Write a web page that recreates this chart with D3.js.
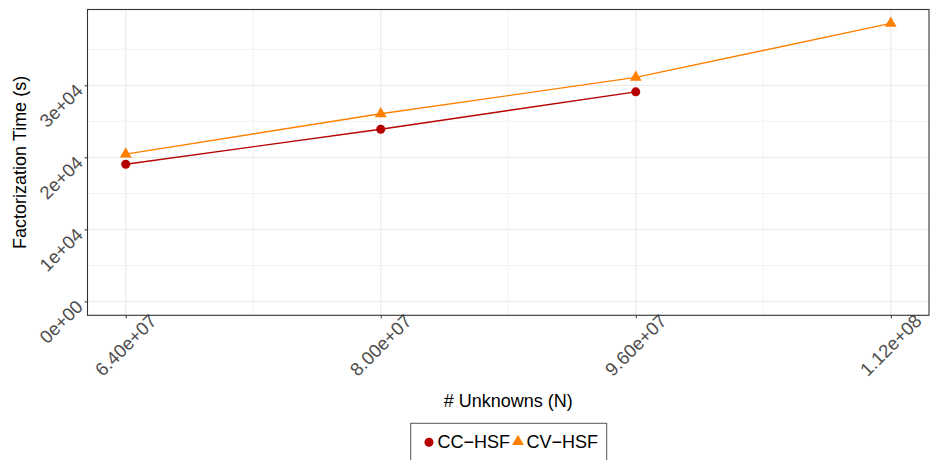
<!DOCTYPE html>
<html><head><meta charset="utf-8">
<script src="https://cdn.jsdelivr.net/npm/d3@7"></script>
<style>body{margin:0;background:#fff}svg{display:block;font-family:"Liberation Sans",Arial,sans-serif}</style>
</head><body><div id="chart"></div>
<script>
const unknowns = [6.4e7, 8.0e7, 9.6e7, 1.12e8];
const xTickLabels = ["6.40e+07", "8.00e+07", "9.60e+07", "1.12e+08"];
const ccHSF = [19050, 23900, 29100, null];
const cvHSF = [20450, 26050, 31100, 38600];
const yTicks = [0, 10000, 20000, 30000];
const yTickLabels = ["0e+00", "1e+04", "2e+04", "3e+04"];
const seriesNames = ["CC\u2212HSF", "CV\u2212HSF"];
const seriesColors = ["#B40000", "#FF8000"];

const W = 930, H = 460;
const P = {l: 87.5, r: 929, t: 9.5, b: 315.3};
const svg = d3.select("#chart").append("svg").attr("width", W).attr("height", H);

const xmin = d3.min(unknowns), xmax = d3.max(unknowns), xr = xmax - xmin;
const x = d3.scaleLinear().domain([xmin - 0.05 * xr, xmax + 0.05 * xr]).range([P.l, P.r]);
const ymax = d3.max(cvHSF.concat(ccHSF.filter(v => v != null)));
const y = d3.scaleLinear().domain([-0.05 * ymax, ymax * 1.05]).range([P.b, P.t]);

// grid
const g = svg.append("g");
const xMinor = d3.pairs(unknowns).map(p => (p[0] + p[1]) / 2);
const yMinor = [5000, 15000, 25000, 35000];
g.selectAll(".xm").data(xMinor).join("line").attr("x1", d => x(d)).attr("x2", d => x(d))
  .attr("y1", P.t).attr("y2", P.b).attr("stroke", "#F2F2F2").attr("stroke-width", 1);
g.selectAll(".ym").data(yMinor).join("line").attr("y1", d => y(d)).attr("y2", d => y(d))
  .attr("x1", P.l).attr("x2", P.r).attr("stroke", "#F2F2F2").attr("stroke-width", 1);
g.selectAll(".xM").data(unknowns).join("line").attr("x1", d => x(d)).attr("x2", d => x(d))
  .attr("y1", P.t).attr("y2", P.b).attr("stroke", "#EBEBEB").attr("stroke-width", 1.2);
g.selectAll(".yM").data(yTicks).join("line").attr("y1", d => y(d)).attr("y2", d => y(d))
  .attr("x1", P.l).attr("x2", P.r).attr("stroke", "#EBEBEB").attr("stroke-width", 1.2);

// axes
const xAxis = d3.axisBottom(x).tickValues(unknowns).tickFormat((d, i) => xTickLabels[i]).tickSize(3).tickSizeOuter(0);
const yAxis = d3.axisLeft(y).tickValues(yTicks).tickFormat((d, i) => yTickLabels[i]).tickSize(3).tickSizeOuter(0);
const gx = svg.append("g").attr("transform", `translate(0,${P.b})`).call(xAxis);
const gy = svg.append("g").attr("transform", `translate(${P.l},0)`).call(yAxis);
[gx, gy].forEach(a => {
  a.select(".domain").remove();
  a.selectAll(".tick line").attr("stroke", "#333333").attr("stroke-width", 1);
  a.selectAll(".tick text").attr("fill", "#4D4D4D").attr("font-size", 18.5).attr("font-family", "Liberation Sans, Arial, sans-serif");
});
gx.selectAll(".tick text").attr("text-anchor", "end").attr("y", 0).attr("x", 0).attr("dy", null)
  .attr("transform", "translate(31.5,7) rotate(-45)");
gy.selectAll(".tick text").attr("text-anchor", "end").attr("x", 0).attr("y", 0).attr("dy", null)
  .attr("transform", "translate(-3.5,6) rotate(-45)");

// panel border
svg.append("rect").attr("x", P.l).attr("y", P.t).attr("width", P.r - P.l).attr("height", P.b - P.t)
  .attr("fill", "none").attr("stroke", "#333333").attr("stroke-width", 1.1);

// lines & points
const series = [ccHSF, cvHSF];
const line = d3.line().defined(d => d.v != null).x(d => x(d.x)).y(d => y(d.v));
series.forEach((s, i) => {
  const pts = unknowns.map((u, j) => ({x: u, v: s[j]}));
  svg.append("path").datum(pts).attr("d", line).attr("fill", "none")
    .attr("stroke", seriesColors[i]).attr("stroke-width", 1.4);
});
const sym = [d3.symbolCircle, d3.symbolTriangle];
const symSize = [64, 60];
series.forEach((s, i) => {
  const pts = unknowns.map((u, j) => ({x: u, v: s[j]})).filter(d => d.v != null);
  svg.selectAll(null).data(pts).join("path")
    .attr("d", d3.symbol().type(sym[i]).size(symSize[i]))
    .attr("transform", d => `translate(${x(d.x)},${y(d.v)})`)
    .attr("fill", seriesColors[i]);
});

// axis titles
svg.append("text").attr("x", (P.l + P.r) / 2).attr("y", 406.5).attr("text-anchor", "middle")
  .attr("font-size", 18).attr("fill", "#000").text("# Unknowns (N)");
svg.append("text").attr("transform", `translate(25.5,${(P.t + P.b) / 2}) rotate(-90)`).attr("text-anchor", "middle")
  .attr("font-size", 18).attr("fill", "#000").text("Factorization Time (s)");

// legend
const lg = svg.append("g");
lg.append("rect").attr("x", 410.7).attr("y", 423.3).attr("width", 196).attr("height", 50)
  .attr("fill", "#fff").attr("stroke", "#555").attr("stroke-width", 1);
const legX = [429, 518];
const legY = [442.3, 441.5];
seriesNames.forEach((n, i) => {
  lg.append("path").attr("d", d3.symbol().type(sym[i]).size(symSize[i]))
    .attr("transform", `translate(${legX[i]},${legY[i]})`).attr("fill", seriesColors[i]);
  lg.append("text").attr("x", legX[i] + 8.5).attr("y", 447.7).attr("font-size", 18).attr("fill", "#000").text(n);
});
</script></body></html>
